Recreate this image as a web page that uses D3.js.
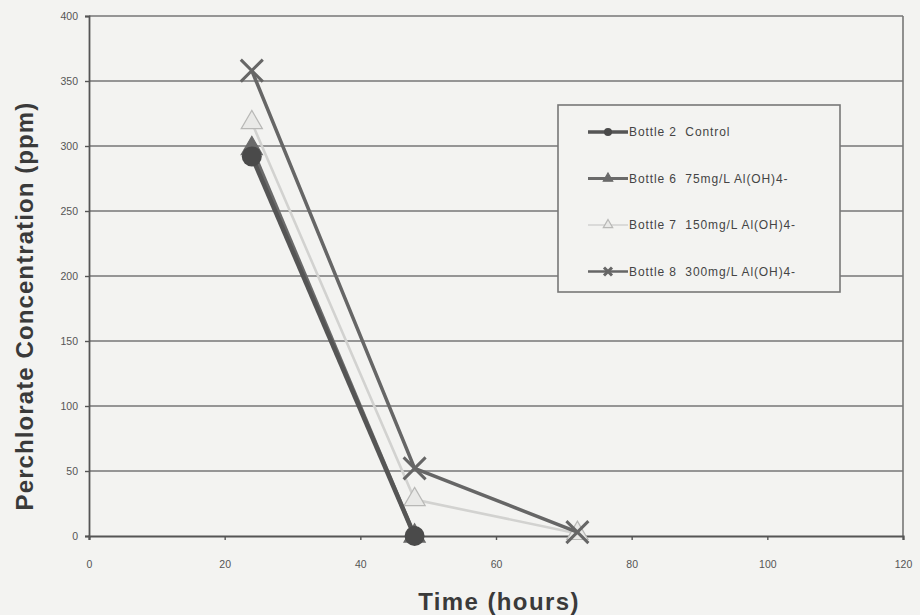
<!DOCTYPE html>
<html>
<head>
<meta charset="utf-8">
<script src="https://cdn.jsdelivr.net/npm/d3@7"></script>
<style>
  html, body { margin: 0; padding: 0; background: #f3f3f1; }
  svg { display: block; font-family: "Liberation Sans", Arial, sans-serif; }
</style>
</head>
<body>
<div id="chart"></div>
<script>
// values
const hours = [24, 48, 72];
const bottle2 = [292, 0];
const bottle6 = [298, 0];
const bottle7 = [318, 28, 2];
const bottle8 = [358, 52, 3];
const seriesNames = [
  'Bottle 2  Control',
  'Bottle 6  75mg/L Al(OH)4-',
  'Bottle 7  150mg/L Al(OH)4-',
  'Bottle 8  300mg/L Al(OH)4-'
];
const xTicks = [0, 20, 40, 60, 80, 100, 120];
const yTicks = [0, 50, 100, 150, 200, 250, 300, 350, 400];

const W = 920, H = 615;
const margin = { top: 16, right: 17, bottom: 79, left: 89 };

const svg = d3.select('#chart').append('svg')
  .attr('width', W).attr('height', H);

svg.append('rect').attr('width', W).attr('height', H).attr('fill', '#f3f3f1');

const x = d3.scaleLinear().domain([0, 120]).range([margin.left, W - margin.right]);
const y = d3.scaleLinear().domain([0, 400]).range([H - margin.bottom, margin.top]);

// gridlines
svg.append('g')
  .selectAll('line')
  .data(yTicks.filter(v => v > 0))
  .join('line')
  .attr('x1', x(0)).attr('x2', x(120))
  .attr('y1', d => y(d)).attr('y2', d => y(d))
  .attr('stroke', '#767676').attr('stroke-width', 1.6);

// right border
svg.append('line')
  .attr('x1', x(120)).attr('x2', x(120))
  .attr('y1', y(400)).attr('y2', y(0))
  .attr('stroke', '#767676').attr('stroke-width', 1.6);

// axes
const yAxis = d3.axisLeft(y).tickValues(yTicks).tickSize(4).tickPadding(7);
const gy = svg.append('g').attr('transform', `translate(${x(0)},0)`).call(yAxis);
gy.select('.domain').attr('stroke', '#555').attr('stroke-width', 1.8);
gy.selectAll('.tick line').attr('stroke', '#555').attr('stroke-width', 1.4);
gy.selectAll('.tick text').attr('fill', '#555').attr('font-size', 10.5);

const xAxis = d3.axisBottom(x).tickValues(xTicks).tickSize(4).tickPadding(21);
const gx = svg.append('g').attr('transform', `translate(0,${y(0)})`).call(xAxis);
gx.select('.domain').attr('stroke', '#555').attr('stroke-width', 2.2);
gx.selectAll('.tick line').attr('stroke', '#555').attr('stroke-width', 1.4);
gx.selectAll('.tick text').attr('fill', '#555').attr('font-size', 10.5);

// axis titles
svg.append('text')
  .attr('transform', 'translate(33,306) rotate(-90)')
  .attr('text-anchor', 'middle')
  .attr('font-size', 24).attr('font-weight', 'bold').attr('fill', '#3a3a3a')
  .attr('letter-spacing', 1.1)
  .text('Perchlorate Concentration (ppm)');

svg.append('text')
  .attr('x', 499).attr('y', 610)
  .attr('text-anchor', 'middle')
  .attr('font-size', 24).attr('font-weight', 'bold').attr('fill', '#3a3a3a')
  .attr('letter-spacing', 1.4)
  .text('Time (hours)');

// series
const series = [
  { name: seriesNames[0], values: bottle2, color: '#555', width: 4.5, marker: 'circle' },
  { name: seriesNames[1], values: bottle6, color: '#6a6a6a', width: 4, marker: 'triangle' },
  { name: seriesNames[2], values: bottle7, color: '#d2d2d0', width: 2.6, marker: 'triangle' },
  { name: seriesNames[3], values: bottle8, color: '#666', width: 3.5, marker: 'x' }
];

const line = d3.line().x(d => x(d[0])).y(d => y(d[1]));

function drawMarker(g, type, color, size) {
  if (type === 'circle') {
    g.append('circle').attr('r', size).attr('fill', '#4a4a4a');
  } else if (type === 'triangle') {
    const light = color === '#d2d2d0';
    g.append('path')
      .attr('d', d3.symbol(d3.symbolTriangle, size * size * 2.4)())
      .attr('fill', light ? '#e9e9e7' : color)
      .attr('stroke', light ? '#b8b8b6' : color)
      .attr('stroke-width', 1.2);
  } else if (type === 'x') {
    const s = size;
    g.append('path')
      .attr('d', `M${-s},${-s}L${s},${s}M${-s},${s}L${s},${-s}`)
      .attr('stroke', color).attr('stroke-width', 3).attr('fill', 'none');
  }
}

// draw order: bottle 6 sits under the control, light series next
const order = [1, 2, 0, 3];
order.forEach(i => {
  const s = series[i];
  const pts = s.values.map((v, k) => [hours[k], v]);
  svg.append('path')
    .datum(pts)
    .attr('d', line)
    .attr('fill', 'none')
    .attr('stroke', s.color)
    .attr('stroke-width', s.width);
  pts.forEach(p => {
    const g = svg.append('g').attr('transform', `translate(${x(p[0])},${y(p[1])})`);
    const size = s.marker === 'circle' ? 10 : (s.marker === 'x' ? 11 : 9);
    drawMarker(g, s.marker, s.color, size);
  });
});

// legend
const lg = svg.append('g').attr('transform', 'translate(558,105)');
lg.append('rect')
  .attr('width', 282).attr('height', 187)
  .attr('fill', '#f3f3f1').attr('stroke', '#777').attr('stroke-width', 1.6);

series.forEach((s, i) => {
  const row = lg.append('g').attr('transform', `translate(0,${27 + i * 46.5})`);
  row.append('line')
    .attr('x1', 30).attr('x2', 70).attr('y1', 0).attr('y2', 0)
    .attr('stroke', s.color).attr('stroke-width', s.width - 1);
  const m = row.append('g').attr('transform', 'translate(50,0)');
  drawMarker(m, s.marker, s.color, 4);
  row.append('text')
    .attr('x', 71).attr('y', 4)
    .attr('font-size', 12).attr('fill', '#444')
    .attr('letter-spacing', 0.9)
    .style('white-space', 'pre')
    .text(s.name);
});
</script>
</body>
</html>
